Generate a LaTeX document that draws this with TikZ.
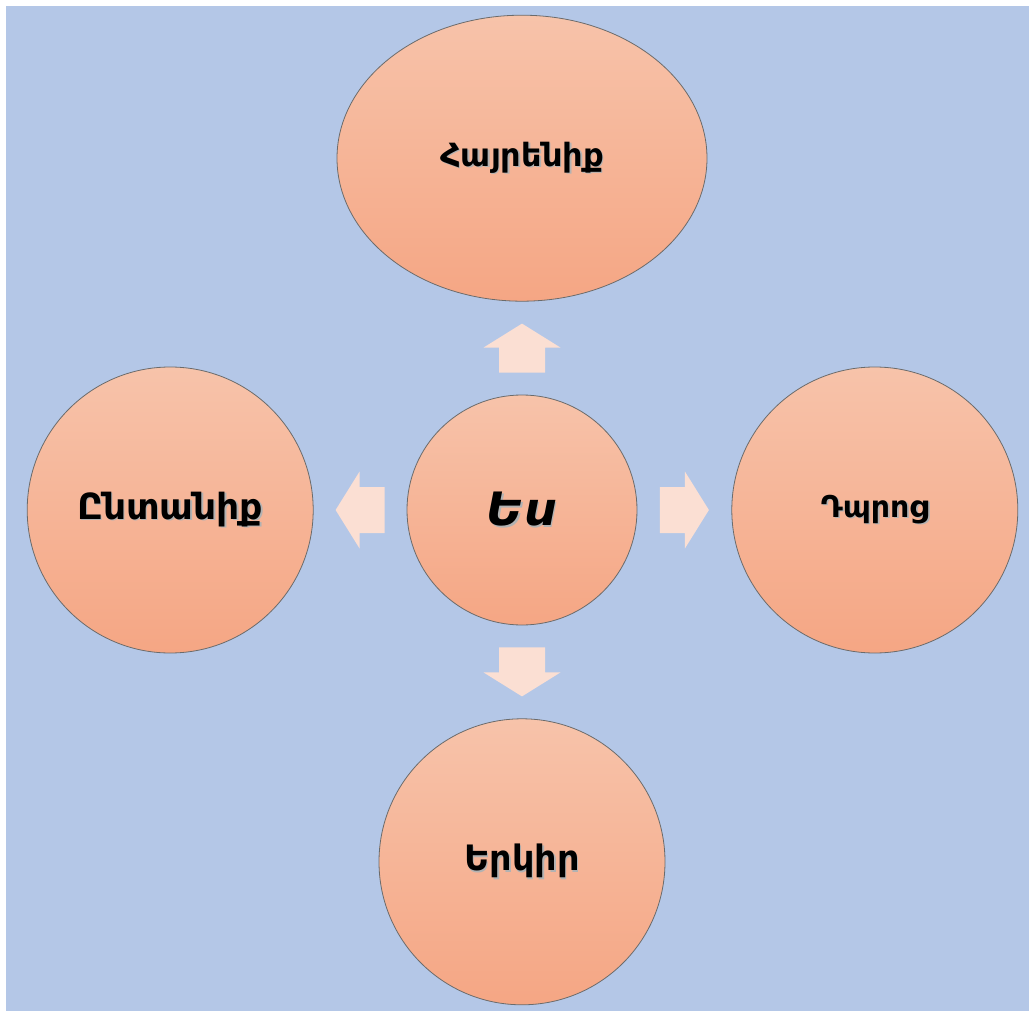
\documentclass[tikz,border=0pt]{standalone}
\usepackage{fontspec}
\setmainfont{DejaVu Sans}
\usetikzlibrary{shapes,arrows,positioning,calc}
\definecolor{skyback}{RGB}{180,199,231}
\definecolor{peachtop}{RGB}{247,195,170}
\definecolor{peachbot}{RGB}{245,166,132}
\definecolor{arrowfill}{RGB}{251,223,211}
\newcommand{\softshadow}[1]{\rlap{\hspace{1.6pt}\raisebox{-1.6pt}{\textcolor{black!30}{#1}}}#1}
\tikzstyle{bubble} = [ellipse, draw=black!58, line width=0.8pt, top color=peachtop, bottom color=peachbot, inner sep=0pt, minimum width=286pt, minimum height=286pt]
\tikzset{blockarrow/.pic={
  \fill[arrowfill] (-24.5,-23) -- (0.5,-23) -- (0.5,-38.5) -- (24.5,0) -- (0.5,38.5) -- (0.5,23) -- (-24.5,23) -- cycle;}}

\begin{document}
\begin{tikzpicture}[x=1pt,y=-1pt]
\useasboundingbox (0,0) rectangle (1029,1011);
\fill[skyback] (6,6) rectangle (1029,1011);
\node [bubble, minimum width=230pt, minimum height=230pt, font=\fontsize{46}{50}\selectfont\bfseries\itshape] (me) at (522,510) {\softshadow{Ես}};
\node [bubble, minimum width=370pt, above=93pt of me, font=\fontsize{32}{36}\selectfont\bfseries] (homeland) {\softshadow{Հայրենիք}};
\node [bubble, left=93pt of me, font=\fontsize{36}{40}\selectfont\bfseries] (family) {\softshadow{Ընտանիք}};
\node [bubble, right=94pt of me, font=\fontsize{30}{34}\selectfont\bfseries] (school) {\softshadow{Դպրոց}};
\node [bubble, below=93pt of me, font=\fontsize{35}{39}\selectfont\bfseries] (country) {\softshadow{Երկիր}};
\pic [rotate=90] (toHome) at ($(me.north)!0.5!(homeland.south)$) {blockarrow};
\pic [rotate=180] (toFamily) at ($(me.west)!0.5!(family.east)$) {blockarrow};
\pic (toSchool) at ($(me.east)!0.5!(school.west)$) {blockarrow};
\pic [rotate=-90] (toCountry) at ($(me.south)!0.5!(country.north)$) {blockarrow};
\end{tikzpicture}
\end{document}
